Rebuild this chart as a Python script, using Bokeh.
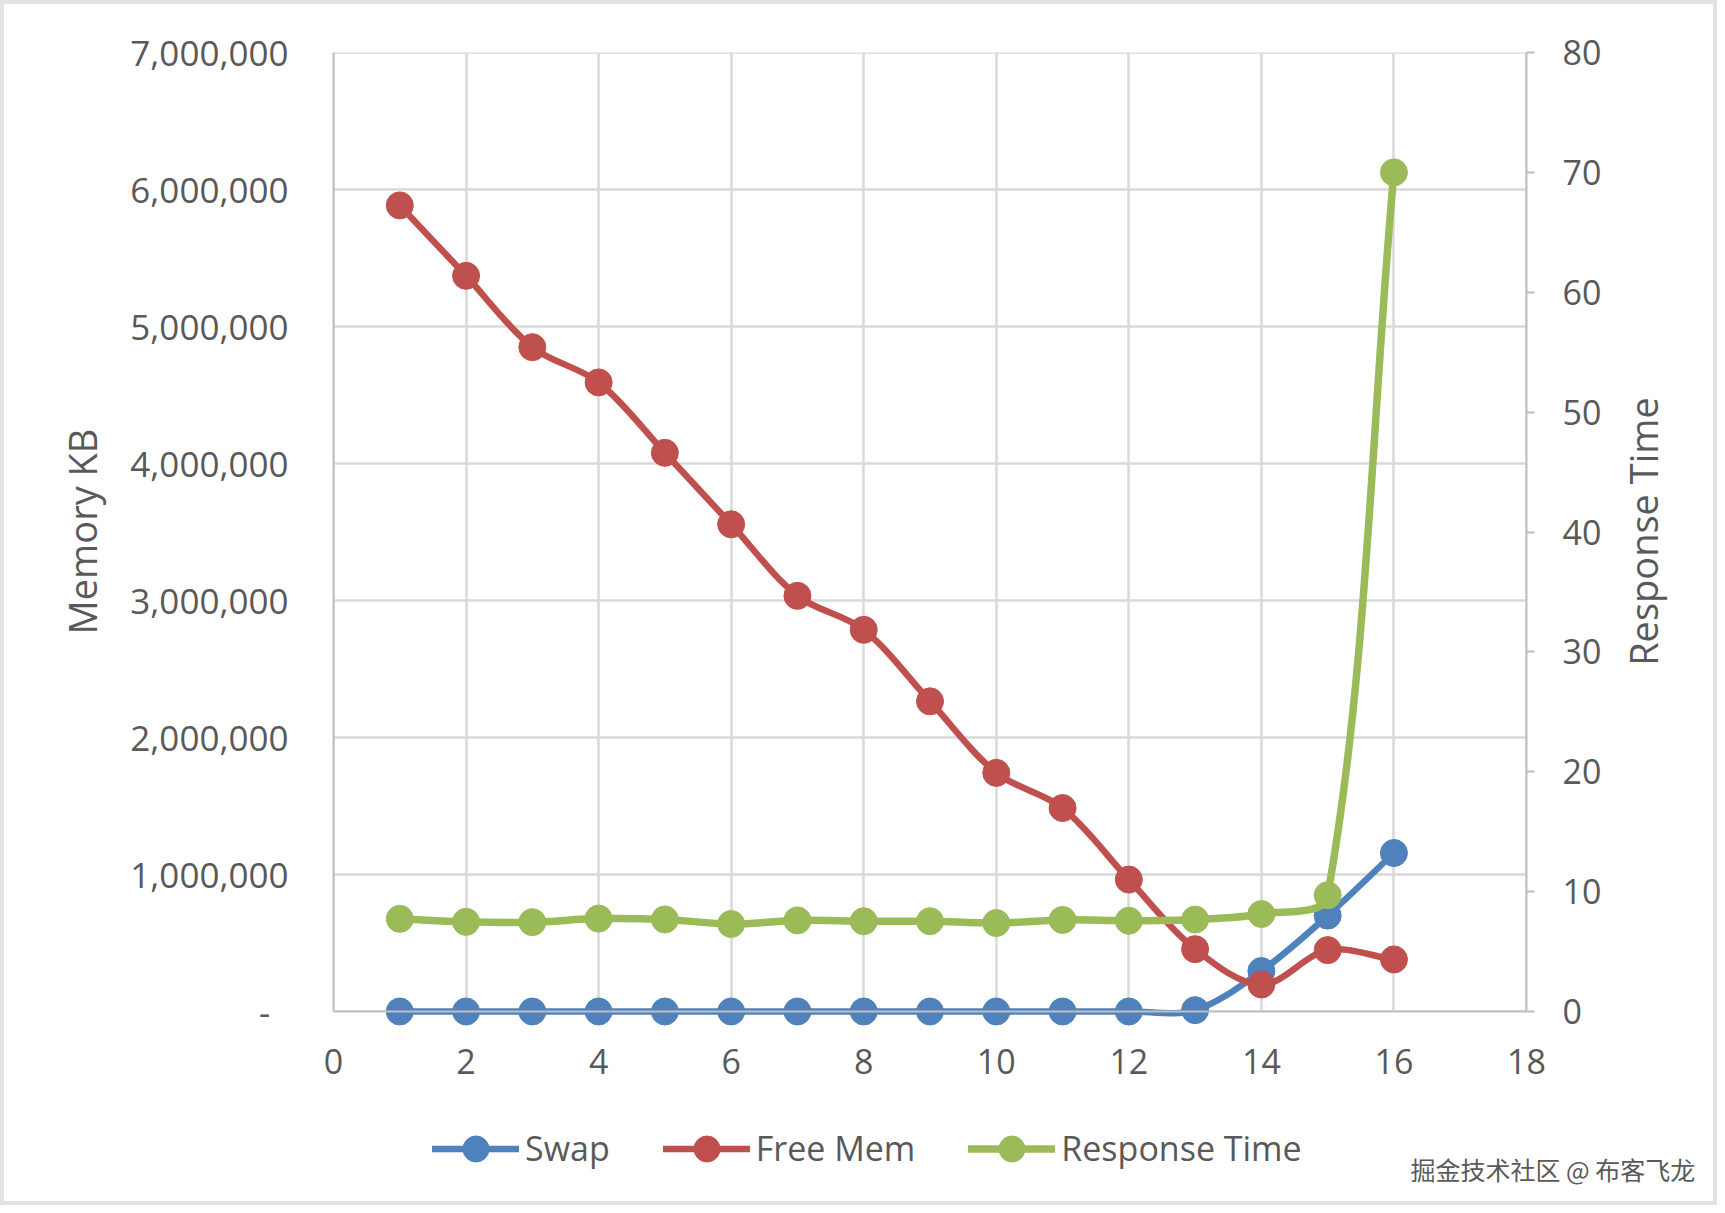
import math
from bokeh.plotting import figure
from bokeh.models import (Range1d, LinearAxis, Legend, LegendItem, Label,
                          FixedTicker, NumeralTickFormatter, ColumnDataSource,
                          BoxAnnotation)
from bokeh.embed import file_html
from bokeh.resources import INLINE

# ---------------- data ----------------
x_vals = [1, 2, 3, 4, 5, 6, 7, 8, 9, 10, 11, 12, 13, 14, 15, 16]
swap_kb = [0, 0, 0, 0, 0, 0, 0, 0, 0, 0, 0, 0, 10000, 295000, 700000, 1157000]
free_mem_kb = [5884000, 5370000, 4849000, 4592000, 4078000, 3556000, 3034000,
               2786000, 2264000, 1742000, 1485000, 963000, 455000, 197000,
               448000, 380000]
response_time = [7.73, 7.48, 7.45, 7.75, 7.68, 7.3, 7.6, 7.53, 7.53, 7.38,
                  7.64, 7.57, 7.67, 8.13, 9.7, 70.0]
x_ticks = [0, 2, 4, 6, 8, 10, 12, 14, 16, 18]
mem_ticks = [0, 1000000, 2000000, 3000000, 4000000, 5000000, 6000000, 7000000]
rt_ticks = [0, 10, 20, 30, 40, 50, 60, 70, 80]
MEM_MAX, RT_MAX, X_MAX = 7000000, 80, 18

# ---------------- layout (inner canvas, inside a 4px page border) ----------------
BORDER = 4
W, H = 1725 - 2 * BORDER, 1213 - 2 * BORDER
PL, PR, PT, PB = 333 - BORDER, 1526 - BORDER, 52 - BORDER, 1011 - BORDER  # plot box
PW, PH = PR - PL, PB - PT

TXT = "#595959"
GRID = "#d9d9d9"
AXIS = "#bfbfbf"
FONT = "Open Sans"
BLUE, RED, GREEN = "#4f81bd", "#c0504d", "#9bbb59"

kx = PW / X_MAX
k_mem = PH / MEM_MAX
k_rt = PH / RT_MAX

# the frame covers the whole canvas so nothing (markers, legend) is clipped
p = figure(width=W, height=H, output_backend="svg", toolbar_location=None,
           x_range=Range1d(-PL / kx, X_MAX + (W - PR) / kx),
           y_range=Range1d(-(H - PB) / k_mem, MEM_MAX + PT / k_mem),
           min_border=0)
p.extra_y_ranges = {"rt": Range1d(-(H - PB) / k_rt, RT_MAX + PT / k_rt)}
p.styles = {"border": f"{BORDER}px solid #e3e3e3"}
p.outline_line_color = None
p.background_fill_color = "white"
p.border_fill_color = "white"

# grids
p.xgrid.ticker = FixedTicker(ticks=x_ticks)
p.ygrid.ticker = FixedTicker(ticks=mem_ticks)
for g in (p.xgrid, p.ygrid):
    g.grid_line_color = GRID
    g.grid_line_width = 2.5
# white masks so the grid only shows inside the plot box
for kw in ({"top": 0}, {"right": 0}, {"left": X_MAX}, {"bottom": MEM_MAX}):
    p.add_layout(BoxAnnotation(fill_color="white", fill_alpha=1,
                               line_color=None, level="underlay", **kw))

# x axis
xa = p.xaxis[0]
xa.ticker = FixedTicker(ticks=x_ticks)
xa.fixed_location = 0
xa.bounds = (0, X_MAX)
# left axis
ya = p.yaxis[0]
ya.ticker = FixedTicker(ticks=mem_ticks)
ya.formatter = NumeralTickFormatter(format="0,0")
ya.major_label_overrides = {0: "-\u00a0\u00a0"}
ya.fixed_location = 0
ya.bounds = (0, MEM_MAX)
# right axis
ra = LinearAxis(y_range_name="rt", ticker=FixedTicker(ticks=rt_ticks),
                bounds=(0, RT_MAX), fixed_location=X_MAX)
p.add_layout(ra, "right")

for ax in (xa, ya, ra):
    ax.axis_line_color = AXIS
    ax.axis_line_width = 2
    ax.major_tick_line_color = None
    ax.minor_tick_line_color = None
    ax.major_label_text_font = FONT
    ax.major_label_text_font_size = "34px"
    ax.major_label_text_color = TXT
ya.major_label_text_font_size = "35px"
ra.major_tick_line_color = AXIS
ra.major_tick_line_width = 2
ra.major_tick_out = 8
ra.major_tick_in = 0
ra.major_label_standoff = 28
ya.major_label_standoff = 39
xa.major_label_standoff = 31

# axis titles
for txt, sx in (("Memory KB", 81 - BORDER), ("Response Time", 1642 - BORDER)):
    p.add_layout(Label(x=sx, y=H - (531 - BORDER), x_units="screen",
                       y_units="screen", text=txt, angle=math.pi / 2,
                       text_align="center", text_baseline="middle",
                       text_font=FONT, text_font_size="38px", text_color=TXT))


# smooth (Excel-like) bezier segments computed in screen space
def smooth(xs, ys, kx, ky, t=1.0 / 3.0):
    P = [(x * kx, y * ky) for x, y in zip(xs, ys)]
    n = len(P)
    d = lambda a, b: math.hypot(a[0] - b[0], a[1] - b[1])
    out = {k: [] for k in ("x0", "y0", "x1", "y1", "cx0", "cy0", "cx1", "cy1")}
    for i in range(n - 1):
        p0, p1, p2, p3 = P[max(i - 1, 0)], P[i], P[i + 1], P[min(i + 2, n - 1)]
        d01, d12, d23 = d(p0, p1), d(p1, p2), d(p2, p3)
        f1 = t * d12 / (d01 + d12) if d01 + d12 > 0 else 0
        f2 = t * d12 / (d12 + d23) if d12 + d23 > 0 else 0
        c1 = (p1[0] + (p2[0] - p0[0]) * f1, p1[1] + (p2[1] - p0[1]) * f1)
        c2 = (p2[0] - (p3[0] - p1[0]) * f2, p2[1] - (p3[1] - p1[1]) * f2)
        out["x0"].append(p1[0] / kx); out["y0"].append(p1[1] / ky)
        out["x1"].append(p2[0] / kx); out["y1"].append(p2[1] / ky)
        out["cx0"].append(c1[0] / kx); out["cy0"].append(c1[1] / ky)
        out["cx1"].append(c2[0] / kx); out["cy1"].append(c2[1] / ky)
    return ColumnDataSource(out)


series = [
    ("Swap", swap_kb, BLUE, k_mem, "default", 6.5),
    ("Free Mem", free_mem_kb, RED, k_mem, "default", 6.5),
    ("Response Time", response_time, GREEN, k_rt, "rt", 7.5),
]
items = []
for name, ys, col, ky, rng, lw in series:
    src = smooth(x_vals, ys, kx, ky)
    bz = p.bezier(x0="x0", y0="y0", x1="x1", y1="y1", cx0="cx0", cy0="cy0",
                  cx1="cx1", cy1="cy1", source=src, line_color=col,
                  line_width=lw, line_cap="round", y_range_name=rng)
    sc = p.scatter(x_vals, ys, size=27, marker="circle", fill_color=col,
                   line_color=col, y_range_name=rng)
    items.append(LegendItem(label=name, renderers=[bz, sc]))

LEG_H = 65
legend = Legend(items=items, orientation="horizontal",
                location=(432 - BORDER, H - (1148 - BORDER) - LEG_H / 2),
                glyph_width=87, glyph_height=LEG_H,
                label_height=40, label_standoff=6, spacing=53, padding=0,
                margin=0, border_line_color=None, background_fill_alpha=0,
                label_text_font=FONT, label_text_font_size="34px",
                label_text_color=TXT)
p.add_layout(legend, "center")

p.add_layout(Label(x=1410 - BORDER, y=H - (1168 - BORDER), x_units="screen",
                   y_units="screen", text="掘金技术社区 @ 布客飞龙",
                   text_font="Noto Sans CJK SC", text_font_size="25px",
                   text_color="#5a5a5a", text_baseline="middle"))

open("out.html", "w").write(file_html(p, INLINE))
